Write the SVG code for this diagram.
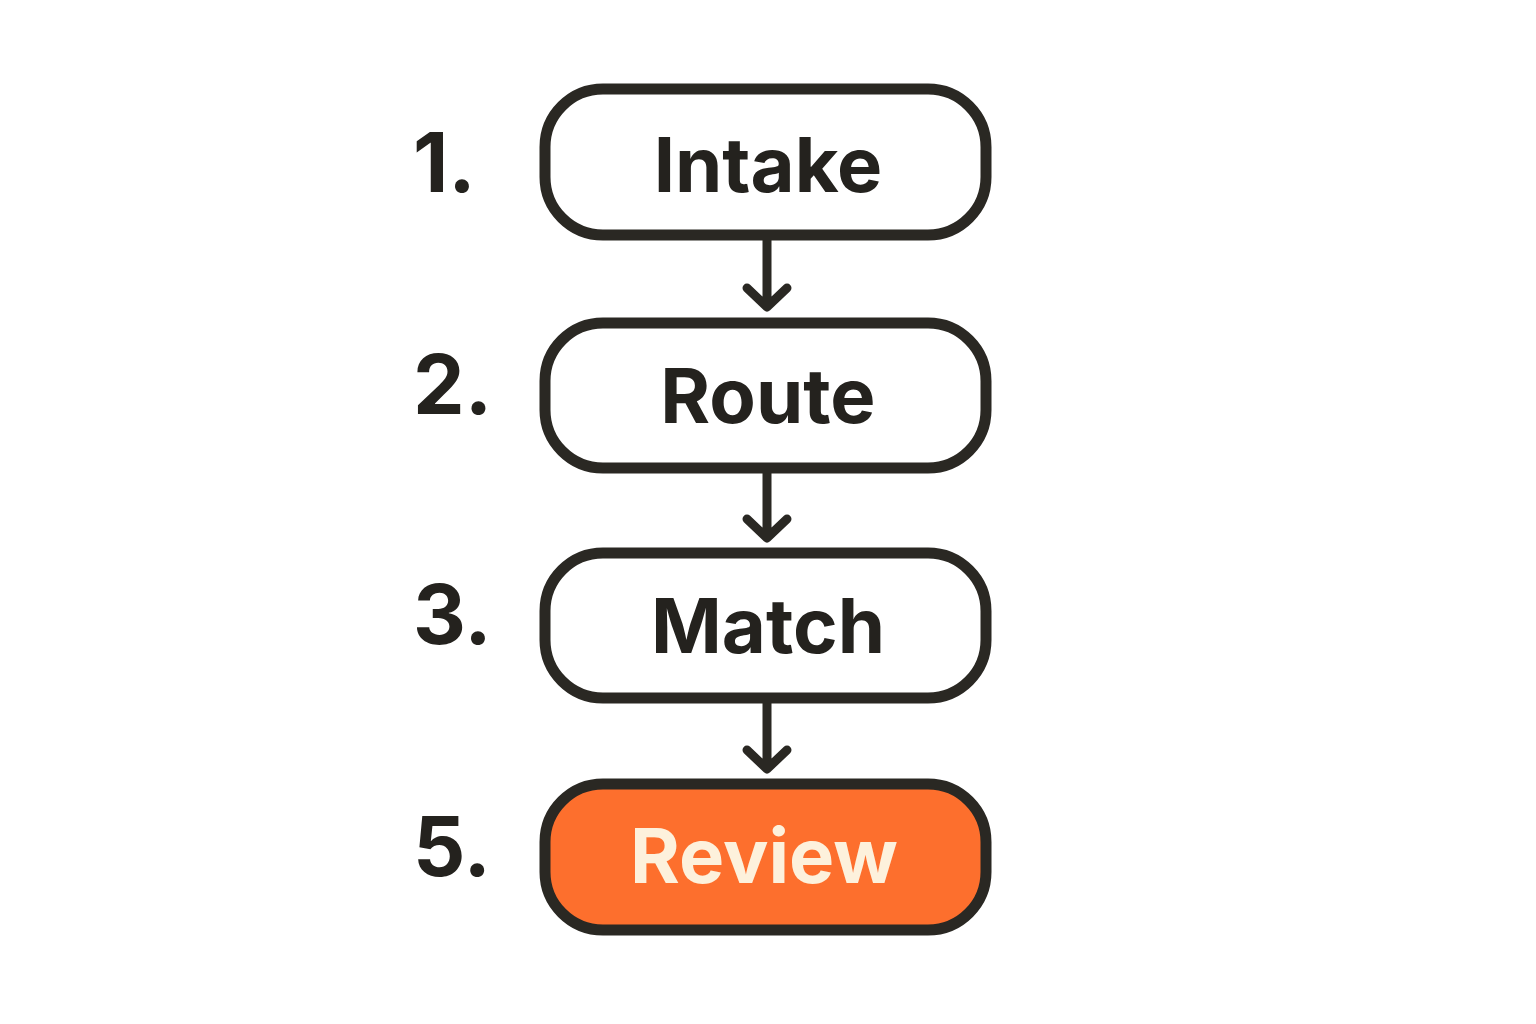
<svg xmlns="http://www.w3.org/2000/svg" width="1536" height="1024" viewBox="0 0 1536 1024">
<defs>
<style>
.box{fill:#ffffff;stroke:#2a2823;stroke-width:11}
.hl{fill:#fd6f2d;stroke:#2a2823;stroke-width:11}
.lbl{font-family:Inter,"Liberation Sans",sans-serif;font-weight:700;font-size:76px;fill:#24221e;text-anchor:middle}
.lblhl{fill:#fdf1dc}
.num{font-family:Inter,"Liberation Sans",sans-serif;font-weight:700;font-size:82px;fill:#24221e}
.edge{fill:none;stroke:#2a2823;stroke-width:9;stroke-linecap:round;stroke-linejoin:round}
</style>
</defs>
<rect width="1536" height="1024" fill="#ffffff"/>
<g id="connectors">
<path class="edge" d="M767 240 V306 M747 288 L767 307 L787 288"/>
<path class="edge" d="M767 472 V537 M747 519 L767 538 L787 519"/>
<path class="edge" d="M767 702 V768 M747 750 L767 769 L787 750"/>
</g>
<g id="n1">
<rect class="box" x="545" y="89" width="441" height="146" rx="58"/>
<text class="lbl" x="768" y="192">Intake</text>
<text class="num" x="413" y="192">1.</text>
</g>
<g id="n2">
<rect class="box" x="545" y="323" width="441" height="145" rx="58"/>
<text class="lbl" x="768" y="423">Route</text>
<text class="num" x="413" y="414">2.</text>
</g>
<g id="n3">
<rect class="box" x="545" y="553" width="441" height="145" rx="58"/>
<text class="lbl" x="768" y="653">Match</text>
<text class="num" x="413" y="644">3.</text>
</g>
<g id="n5">
<rect class="hl" x="545" y="784" width="441" height="146" rx="58"/>
<text class="lbl lblhl" x="764" y="883">Review</text>
<text class="num" x="413" y="876">5.</text>
</g>
</svg>
